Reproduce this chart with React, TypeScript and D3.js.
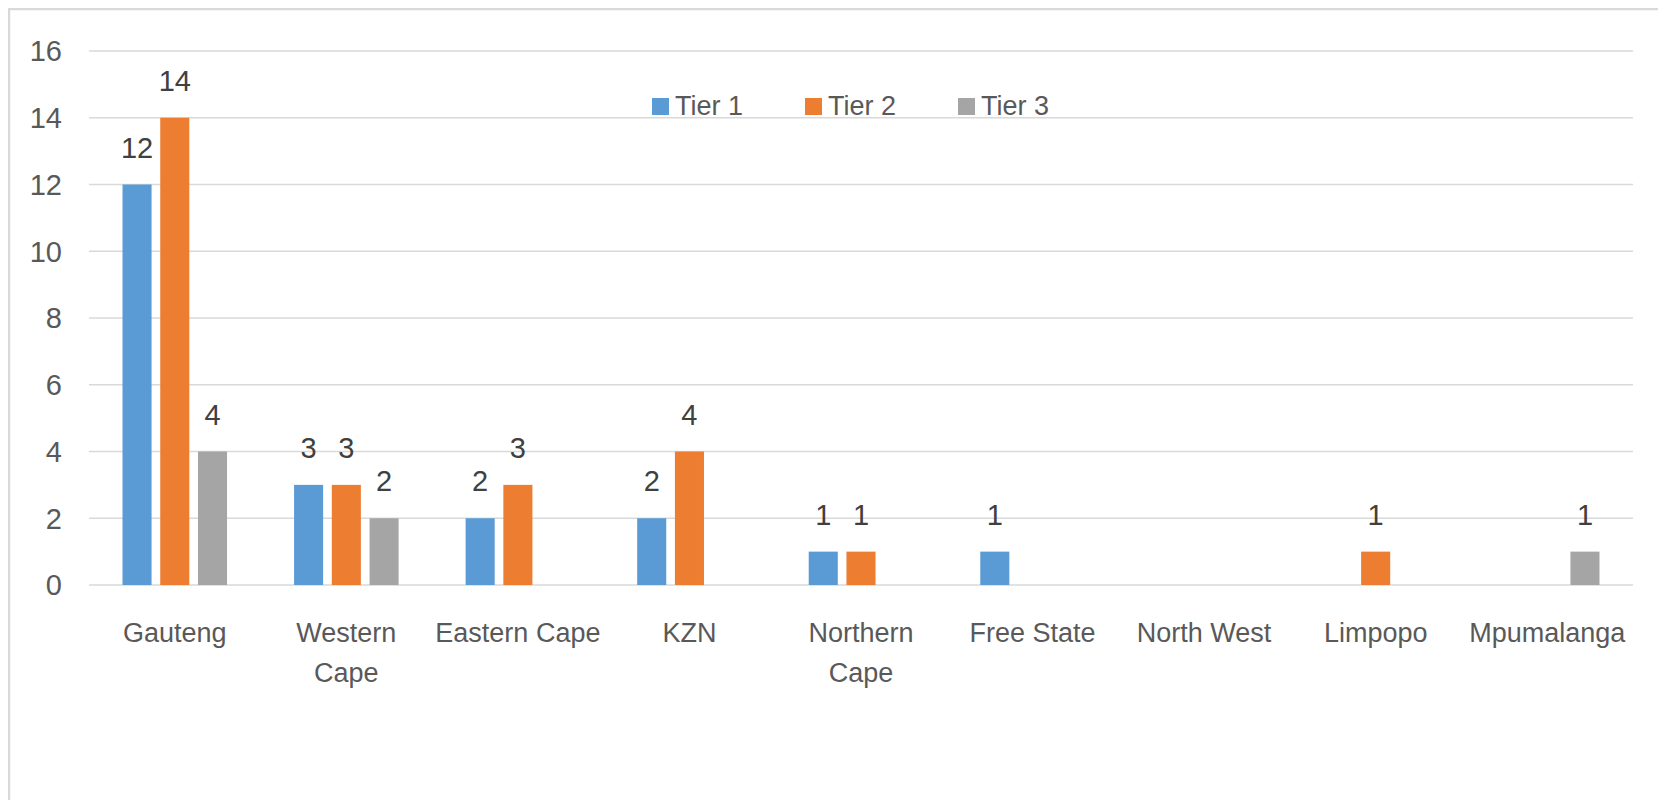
import React, { useEffect, useRef } from 'react';
import * as d3 from 'd3';

const provinces = [
  'Gauteng', 'Western Cape', 'Eastern Cape', 'KZN', 'Northern Cape',
  'Free State', 'North West', 'Limpopo', 'Mpumalanga',
];
// how each category label wraps on the axis
const provinceLines = [
  ['Gauteng'], ['Western', 'Cape'], ['Eastern Cape'], ['KZN'], ['Northern', 'Cape'],
  ['Free State'], ['North West'], ['Limpopo'], ['Mpumalanga'],
];
const tierNames = ['Tier 1', 'Tier 2', 'Tier 3'];
const tier1 = [12, 3, 2, 2, 1, 1, 0, 0, 0];
const tier2 = [14, 3, 3, 4, 1, 0, 0, 1, 0];
const tier3 = [4, 2, 0, 0, 0, 0, 0, 0, 1];
const yTicks = [0, 2, 4, 6, 8, 10, 12, 14, 16];

const colors = ['#5b9bd5', '#ed7d31', '#a5a5a5'];
const FONT = "'Liberation Sans', Arial, sans-serif";

const App: React.FC = () => {
  const svgRef = useRef<SVGSVGElement | null>(null);

  useEffect(() => {
    if (!svgRef.current) return;
    const svg = d3.select(svgRef.current);
    svg.selectAll('*').remove();

    // work in page coordinates (svg sits at the 8px body margin)
    const g = svg.append('g').attr('transform', 'translate(-8,-8)');

    const left = 89, right = 1633, top = 51, bottom = 585;

    g.append('rect')
      .attr('x', 9).attr('y', 9)
      .attr('width', 1700).attr('height', 900)
      .attr('fill', 'none')
      .attr('stroke', '#d9d9d9')
      .attr('stroke-width', 2.5);

    const x0 = d3.scaleBand<string>()
      .domain(provinces)
      .range([left, right])
      .paddingInner(0.34)
      .paddingOuter(0.17);

    const x1 = d3.scaleBand<string>()
      .domain(tierNames)
      .range([0, x0.bandwidth()])
      .paddingInner(0.23)
      .paddingOuter(0.115);

    const y = d3.scaleLinear().domain([0, 16]).range([bottom, top]);

    // gridlines
    g.append('g')
      .selectAll('line')
      .data(yTicks)
      .enter().append('line')
      .attr('x1', left).attr('x2', right)
      .attr('y1', d => y(d)).attr('y2', d => y(d))
      .attr('stroke', '#d9d9d9')
      .attr('stroke-width', 1.5);

    // y tick labels
    g.append('g')
      .selectAll('text')
      .data(yTicks)
      .enter().append('text')
      .attr('x', 62)
      .attr('y', d => y(d))
      .attr('dy', '0.36em')
      .attr('text-anchor', 'end')
      .attr('font-family', FONT)
      .attr('font-size', 29)
      .attr('fill', '#595959')
      .text(d => d);

    const series = [tier1, tier2, tier3];
    const cells = series.flatMap((vals, si) =>
      vals.map((v, ci) => ({ tier: tierNames[si], si, prov: provinces[ci], v }))
    ).filter(d => d.v > 0);

    g.append('g')
      .selectAll('rect')
      .data(cells)
      .enter().append('rect')
      .attr('x', d => (x0(d.prov) || 0) + (x1(d.tier) || 0))
      .attr('y', d => y(d.v))
      .attr('width', x1.bandwidth())
      .attr('height', d => y(0) - y(d.v))
      .attr('fill', d => colors[d.si]);

    // data labels
    g.append('g')
      .selectAll('text')
      .data(cells)
      .enter().append('text')
      .attr('x', d => (x0(d.prov) || 0) + (x1(d.tier) || 0) + x1.bandwidth() / 2)
      .attr('y', d => y(d.v) - 27)
      .attr('text-anchor', 'middle')
      .attr('font-family', FONT)
      .attr('font-size', 29)
      .attr('fill', '#404040')
      .text(d => d.v);

    // category labels
    const cat = g.append('g')
      .selectAll('text')
      .data(provinces)
      .enter().append('text')
      .attr('text-anchor', 'middle')
      .attr('font-family', FONT)
      .attr('font-size', 27)
      .attr('fill', '#595959');
    cat.each(function (p, i) {
      const cx = (x0(p) || 0) + x0.bandwidth() / 2;
      d3.select(this).selectAll('tspan')
        .data(provinceLines[i])
        .enter().append('tspan')
        .attr('x', cx)
        .attr('y', (_, li) => 642 + li * 40)
        .text(l => l);
    });

    // legend
    const legend = g.append('g')
      .selectAll('g')
      .data(tierNames)
      .enter().append('g')
      .attr('transform', (_, i) => `translate(${652 + i * 153},98)`);
    legend.append('rect')
      .attr('width', 17).attr('height', 17)
      .attr('fill', (_, i) => colors[i]);
    legend.append('text')
      .attr('x', 23).attr('y', 17)
      .attr('font-family', FONT)
      .attr('font-size', 27)
      .attr('fill', '#595959')
      .text(d => d);
  }, []);

  return <svg ref={svgRef} width={1658} height={792} style={{ display: 'block' }}></svg>;
};

export default App;
